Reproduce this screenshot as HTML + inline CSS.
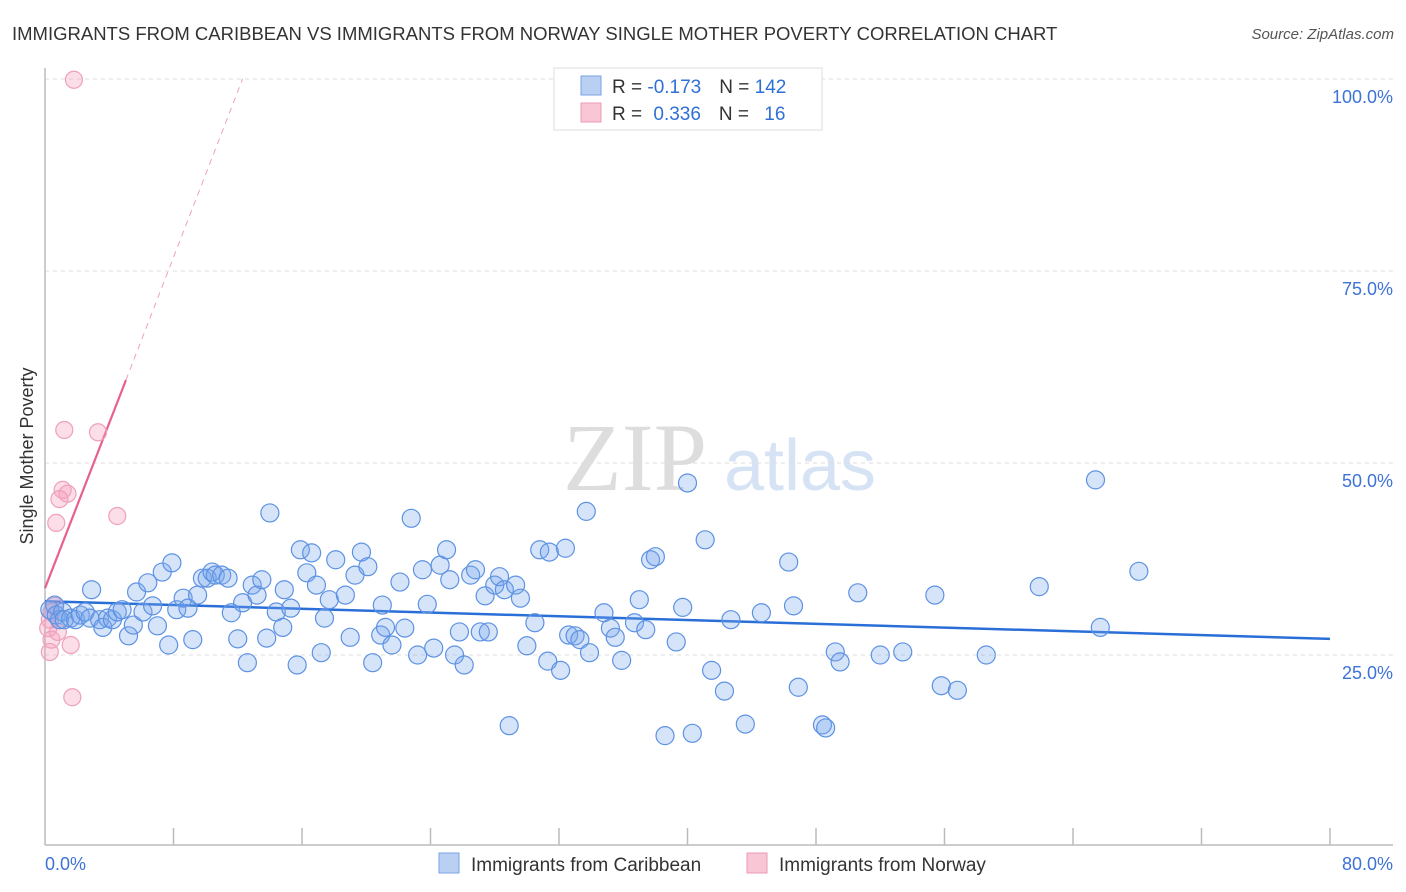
<!DOCTYPE html>
<html><head><meta charset="utf-8"><style>
body{margin:0;background:#fff;font-family:"Liberation Sans",sans-serif;}
#wrap{position:relative;width:1406px;height:892px;overflow:hidden;}
</style></head><body>
<div id="wrap">
<svg id="chart" width="1406" height="892" font-family="Liberation Sans, sans-serif">
<text x="12" y="40" font-size="18.5" fill="#333">IMMIGRANTS FROM CARIBBEAN VS IMMIGRANTS FROM NORWAY SINGLE MOTHER POVERTY CORRELATION CHART</text>
<text x="1394" y="39" font-size="15" fill="#555" font-style="italic" text-anchor="end">Source: ZipAtlas.com</text>
<text x="33" y="456" font-size="18" fill="#333" text-anchor="middle" transform="rotate(-90 33 456)">Single Mother Poverty</text>
<g>
<text x="635" y="490" font-size="96" fill="#ddd" font-family="Liberation Serif, serif" text-anchor="middle">ZIP</text>
<text x="800" y="490" font-size="72" fill="#d6e3f5" text-anchor="middle">atlas</text>
</g>
<g id="grid"></g><g id="axes"></g><g id="lines"></g><g id="pts"></g>
<g>
<rect x="554" y="68" width="268" height="62" fill="#fff" stroke="#ddd"/>
<rect x="581" y="76" width="20" height="19" fill="#b9d0f3" stroke="#7aa3e6"/>
<rect x="581" y="103" width="20" height="19" fill="#f9c6d5" stroke="#ec9ab6"/>
<text x="612" y="93" font-size="19" fill="#333">R = <tspan fill="#2f6fd6">-0.173</tspan><tspan dx="18">N = </tspan><tspan fill="#2f6fd6">142</tspan></text>
<text x="612" y="120" font-size="19" fill="#333">R = <tspan fill="#2f6fd6" dx="6">0.336</tspan><tspan dx="18">N = </tspan><tspan fill="#2f6fd6" dx="10">16</tspan></text>
</g>
<g>
<rect x="439" y="853" width="20" height="20" fill="#b9d0f3" stroke="#7aa3e6"/>
<text x="471" y="871" font-size="19" fill="#333">Immigrants from Caribbean</text>
<rect x="747" y="853" width="20" height="20" fill="#f9c6d5" stroke="#ec9ab6"/>
<text x="779" y="871" font-size="19" fill="#333">Immigrants from Norway</text>
</g>
</svg>
</div>
<script>
const xTicks=[0,10,20,30,40,50,60,70,80];
const yTicks=[25,50,75,100];
const xEndLabels=["0.0%","80.0%"];
const blueX=[0.3,0.6,0.7,0.9,1.1,1.2,1.6,1.9,2.2,2.5,2.8,2.9,3.4,3.6,3.9,4.2,4.5,4.8,5.2,5.5,5.7,6.1,6.4,6.7,7.0,7.3,7.7,7.9,8.2,8.6,8.9,9.2,9.5,9.8,10.1,10.4,10.6,11.0,11.4,11.6,12.0,12.3,12.6,12.9,13.2,13.5,13.8,14.0,14.4,14.8,14.9,15.3,15.7,15.9,16.3,16.6,16.9,17.2,17.4,17.7,18.1,18.7,19.0,19.3,19.7,20.1,20.4,20.9,21.0,21.2,21.6,22.1,22.4,22.8,23.2,23.5,23.8,24.2,24.6,25.0,25.2,25.5,25.8,26.1,26.5,26.8,27.1,27.4,27.6,28.0,28.3,28.6,28.9,29.3,29.6,30.0,30.5,30.8,31.3,31.4,32.1,32.4,32.6,33.0,33.3,33.7,33.9,34.8,35.2,35.5,35.9,36.7,37.0,37.4,37.7,38.0,38.6,39.3,39.7,40.0,40.3,41.1,41.5,42.3,42.7,43.6,44.6,46.3,46.6,46.9,48.4,48.6,49.2,49.5,50.6,52.0,53.4,55.4,55.8,56.8,58.6,61.9,65.4,65.7,68.1];
const blueY=[30.9,31.5,30.2,29.6,30.6,29.6,29.8,29.6,30.2,30.6,29.8,33.5,29.6,28.6,29.8,29.6,30.6,30.9,27.5,28.9,33.2,30.6,34.4,31.4,28.8,35.8,26.3,37.0,30.9,32.4,31.1,27.0,32.8,35.0,35.0,35.8,35.4,35.4,35.0,30.5,27.1,31.8,24.0,34.1,32.8,34.8,27.2,43.5,30.6,28.6,33.5,31.1,23.7,38.7,35.7,38.3,34.1,25.3,29.8,32.2,37.4,32.8,27.3,35.4,38.4,36.5,24.0,27.6,31.5,28.6,26.3,34.5,28.5,42.8,25.0,36.1,31.6,25.9,36.7,38.7,34.8,25.0,28.0,23.7,35.4,36.1,28.0,32.7,28.0,34.1,35.2,33.5,15.8,34.1,32.4,26.2,29.2,38.7,24.2,38.4,23.0,38.9,27.6,27.5,27.0,43.7,25.3,30.5,28.5,27.3,24.3,29.2,32.2,28.3,37.4,37.8,14.5,26.7,31.2,47.4,14.8,40.0,23.0,20.3,29.6,16.0,30.5,37.1,31.4,20.8,15.9,15.5,25.4,24.1,33.1,25.0,25.4,32.8,21.0,20.4,25.0,33.9,47.8,28.6,35.9];
const pinkX=[1.8,0.6,0.4,0.3,0.2,0.4,0.8,0.3,1.2,3.3,1.1,1.4,0.9,0.7,4.5,1.6,1.7];
const pinkY=[99.9,31.4,30.6,29.6,28.5,27.0,28.0,25.4,54.3,54.0,46.5,46.0,45.3,42.2,43.1,26.3,19.5];
const blueTrend=[32.0,27.1];
const pinkTrend=[33.7,60.8,5.04,12.3];

const X0=45,X1=1330,YB=847,YT=79;
const sx=v=>X0+(v/80)*(X1-X0);
const sy=v=>YB-(v/100)*(YB-YT);
const NS="http://www.w3.org/2000/svg";
function mk(tag,attrs,parent){const e=document.createElementNS(NS,tag);for(const k in attrs)e.setAttribute(k,attrs[k]);document.getElementById(parent).appendChild(e);return e;}

yTicks.forEach(t=>{
  const g=mk('line',{x1:X0,x2:1393,y1:sy(t),y2:sy(t),stroke:'#ddd','stroke-dasharray':'4,4'},'grid');
  
  
  const l=mk('text',{x:1393,y:sy(t)+24,'font-size':18,fill:'#3d72d6','text-anchor':'end'},'grid');
  l.textContent=t.toFixed(1)+'%';
  
  
});
let ax=mk('line',{x1:X0,x2:X0,y1:68,y2:845,stroke:'#bbb','stroke-width':1.5},'axes');


ax=mk('line',{x1:X0,x2:1393,y1:845,y2:845,stroke:'#bbb','stroke-width':1.5},'axes');


for(let i=1;i<=10;i++){
  const v=i*8;
  const tk=mk('line',{x1:sx(v),x2:sx(v),y1:828,y2:845,stroke:'#bbb','stroke-width':1.5},'axes');
  
  
}
let xl=mk('text',{x:45,y:870,'font-size':18,fill:'#3d72d6'},'axes');
xl.textContent=xEndLabels[0];


xl=mk('text',{x:1393,y:870,'font-size':18,fill:'#3d72d6','text-anchor':'end'},'axes');
xl.textContent=xEndLabels[1];



pinkX.forEach((x,i)=>{
  const c=mk('circle',{cx:sx(x),cy:sy(pinkY[i]),r:8.5,fill:'rgba(245,160,190,0.35)',stroke:'#eea0bb','stroke-width':1.2},'pts');
  
  
});
blueX.forEach((x,i)=>{
  const c=mk('circle',{cx:sx(x),cy:sy(blueY[i]),r:9,fill:'rgba(120,165,235,0.3)',stroke:'#5d92e3','stroke-width':1.2},'pts');
  
  
});
let tl=mk('line',{x1:sx(0),y1:sy(blueTrend[0]),x2:sx(80),y2:sy(blueTrend[1]),stroke:'#2a6fd8','stroke-width':2.5},'lines');


tl=mk('line',{x1:sx(0),y1:sy(pinkTrend[0]),x2:sx(pinkTrend[2]),y2:sy(pinkTrend[1]),stroke:'#e8608e','stroke-width':2.2},'lines');


tl=mk('line',{x1:sx(pinkTrend[2]),y1:sy(pinkTrend[1]),x2:sx(pinkTrend[3]),y2:sy(100),stroke:'#eea0bb','stroke-width':1,'stroke-dasharray':'6,5'},'lines');


</script>
</body></html>
